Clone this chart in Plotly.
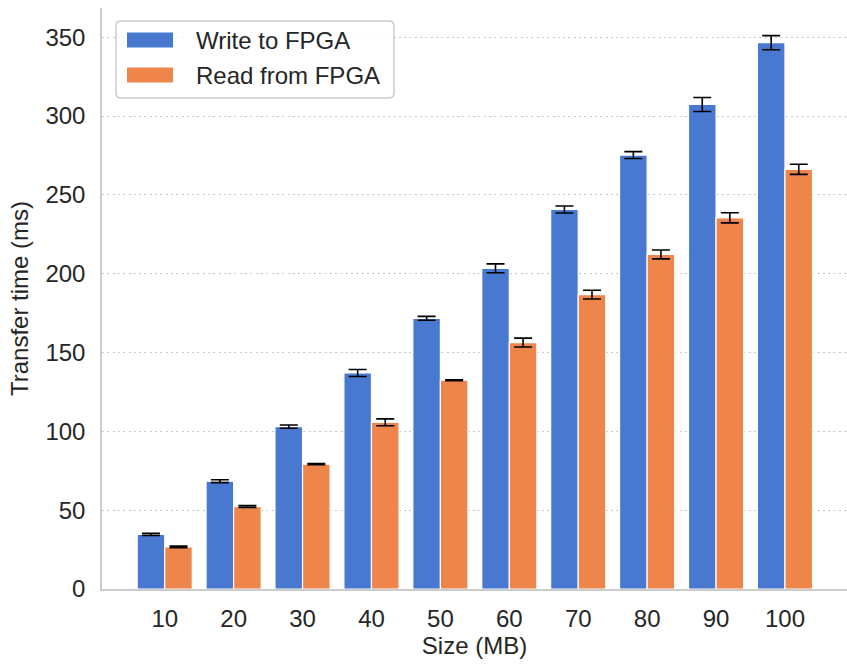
import plotly.graph_objects as go

# Transfer sizes and measured transfer times (mean and spread)
sizes = ["10", "20", "30", "40", "50", "60", "70", "80", "90", "100"]
write_ms = [34.7, 68.4, 103.0, 137.0, 171.7, 203.4, 240.7, 275.2, 307.3, 346.5]
write_err = [0.7, 0.9, 1.0, 2.2, 1.2, 2.8, 2.2, 2.2, 4.4, 4.5]
read_ms = [26.7, 52.3, 79.2, 105.7, 132.4, 156.3, 186.7, 212.2, 235.4, 266.2]
read_err = [0.5, 0.6, 0.4, 2.2, 0.3, 2.8, 2.8, 2.8, 3.2, 3.2]

series_names = ["Write to FPGA", "Read from FPGA"]
colors = ["#4878d0", "#ee854a"]

FONT = "Liberation Sans, Arial, Helvetica, sans-serif"
TEXT = "#262626"
FS = 24

fig = go.Figure()
for name, vals, errs, col in zip(series_names, [write_ms, read_ms],
                                 [write_err, read_err], colors):
    fig.add_trace(go.Bar(
        x=sizes, y=vals, name=name,
        marker=dict(color=col, line=dict(color="white", width=1.2)),
        error_y=dict(type="data", array=errs, visible=True,
                     color="black", thickness=1.6, width=9),
        showlegend=False,
    ))

# Legend drawn as a rounded box with wide colour patches
W, H = 847, 666
L, R, T, B = 102, 0, 8, 77
pw, ph = W - L - R, H - T - B


def px(x):
    return (x - L) / pw


def py(y):
    return 1 - (y - T) / ph


x0, x1, y0, y1, rad = px(116), px(394), py(21), py(98), 5
rx, ry = rad / pw, rad / ph
box_path = (
    f"M {x0+rx},{y0} L {x1-rx},{y0} Q {x1},{y0} {x1},{y0-ry} "
    f"L {x1},{y1+ry} Q {x1},{y1} {x1-rx},{y1} "
    f"L {x0+rx},{y1} Q {x0},{y1} {x0},{y1+ry} "
    f"L {x0},{y0-ry} Q {x0},{y0} {x0+rx},{y0} Z"
)
shapes = [dict(type="path", path=box_path, xref="paper", yref="paper",
               fillcolor="rgba(255,255,255,0.8)",
               line=dict(color="#cccccc", width=1.5), layer="above")]
annotations = []
for i, (name, col) in enumerate(zip(series_names, colors)):
    cy = 40 + i * 35
    shapes.append(dict(type="rect", xref="paper", yref="paper",
                       x0=px(127), x1=px(173), y0=py(cy - 7.5), y1=py(cy + 7.5),
                       fillcolor=col, line=dict(width=0), layer="above"))
    annotations.append(dict(x=px(194), y=py(cy), xref="paper", yref="paper",
                            text=name, showarrow=False, xanchor="left",
                            yanchor="middle",
                            font=dict(family=FONT, size=FS, color=TEXT)))

fig.update_layout(
    width=W, height=H,
    margin=dict(l=L, r=R, t=T, b=B, autoexpand=False),
    paper_bgcolor="white", plot_bgcolor="white",
    barmode="group", bargap=0.2, bargroupgap=0.0,
    font=dict(family=FONT, size=FS, color=TEXT),
    shapes=shapes, annotations=annotations,
    xaxis=dict(
        type="category", range=[-0.91, 9.90],
        showline=True, linecolor="#cccccc", linewidth=1.5,
        showgrid=False, ticks="", ticklabelstandoff=7,
        tickfont=dict(size=FS, color=TEXT),
        title=dict(text="Size (MB)", standoff=7,
                   font=dict(size=FS, color=TEXT)),
    ),
    yaxis=dict(
        range=[0, 368.5], tickvals=[0, 50, 100, 150, 200, 250, 300, 350],
        showline=True, linecolor="#cccccc", linewidth=1.5,
        showgrid=True, gridcolor="#c8c8c8", gridwidth=1.3,
        griddash="2px,3.3px",
        zeroline=False, ticks="", ticklabelstandoff=10,
        tickfont=dict(size=FS, color=TEXT),
        title=dict(text="Transfer time (ms)", standoff=10,
                   font=dict(size=FS, color=TEXT)),
    ),
)

fig.write_html("out.html")
